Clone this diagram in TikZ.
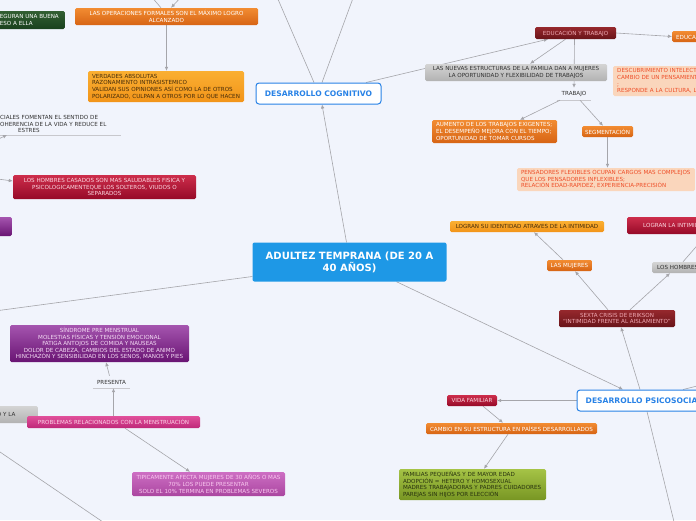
\documentclass[tikz,border=0pt]{standalone}
\usepackage{fontspec}
\setmainfont{DejaVu Sans}
\usetikzlibrary{arrows.meta}
\pgfdeclarelayer{fondo}
\pgfdeclarelayer{lineas}
\pgfsetlayers{fondo,lineas,main}

\definecolor{papel}{RGB}{241,244,252}
\definecolor{grislinea}{RGB}{165,165,170}
\definecolor{grisclaro}{RGB}{200,200,205}
\definecolor{azulraiz}{RGB}{30,152,230}
\definecolor{azulrama}{RGB}{40,130,230}
\definecolor{naranjaA}{RGB}{242,140,50}
\definecolor{naranjaB}{RGB}{215,100,20}
\definecolor{amarilloA}{RGB}{250,175,50}
\definecolor{amarilloB}{RGB}{242,148,25}
\definecolor{textooscuro}{RGB}{70,45,10}
\definecolor{granateA}{RGB}{150,40,45}
\definecolor{granateB}{RGB}{105,20,25}
\definecolor{rosagranate}{RGB}{240,170,180}
\definecolor{carmesiA}{RGB}{205,45,75}
\definecolor{carmesiB}{RGB}{150,10,40}
\definecolor{rosacarmesi}{RGB}{252,215,225}
\definecolor{grisA}{RGB}{212,212,212}
\definecolor{grisB}{RGB}{178,178,178}
\definecolor{textogris}{RGB}{50,50,50}
\definecolor{moradoA}{RGB}{165,85,175}
\definecolor{moradoB}{RGB}{105,20,115}
\definecolor{lilatexto}{RGB}{245,220,245}
\definecolor{fucsiaA}{RGB}{225,80,155}
\definecolor{fucsiaB}{RGB}{190,40,120}
\definecolor{rosafucsia}{RGB}{252,210,232}
\definecolor{lilaA}{RGB}{205,110,195}
\definecolor{lilaB}{RGB}{170,70,160}
\definecolor{rosalila}{RGB}{250,200,240}
\definecolor{melonfondo}{RGB}{250,214,188}
\definecolor{melontexto}{RGB}{238,78,40}
\definecolor{verdeA}{RGB}{165,195,70}
\definecolor{verdeB}{RGB}{120,150,35}
\definecolor{textoverde}{RGB}{40,50,15}
\definecolor{verdeoscA}{RGB}{50,95,50}
\definecolor{verdeoscB}{RGB}{25,65,30}

\newcommand{\letra}{\fontsize{5.6}{6.6}\selectfont}

\tikzset{
  conector/.style={draw=grislinea,line width=0.6pt},
  flecha/.style={conector,-{Latex[length=4pt,width=3.6pt]}},
  subrayado/.style={draw=grisclaro,line width=0.7pt},
  caja/.style={rounded corners=1.5pt,inner xsep=3pt,inner ysep=1.5pt,font=\letra,align=center},
  naranja/.style={caja,top color=naranjaA,bottom color=naranjaB,text=white},
  naranjaclaro/.style={caja,top color=amarilloA,bottom color=amarilloB,text=textooscuro},
  granate/.style={caja,top color=granateA,bottom color=granateB,text=rosagranate},
  carmesi/.style={caja,top color=carmesiA,bottom color=carmesiB,text=rosacarmesi},
  gris/.style={caja,top color=grisA,bottom color=grisB,text=textogris},
  morado/.style={caja,top color=moradoA,bottom color=moradoB,text=lilatexto},
  fucsia/.style={caja,top color=fucsiaA,bottom color=fucsiaB,text=rosafucsia},
  lila/.style={caja,top color=lilaA,bottom color=lilaB,text=rosalila},
  melon/.style={caja,fill=melonfondo,text=melontexto},
  verde/.style={caja,top color=verdeA,bottom color=verdeB,text=textoverde},
  verdeosc/.style={caja,top color=verdeoscA,bottom color=verdeoscB,text=white},
  libre/.style={font=\letra,text=textogris,inner sep=1pt,align=center},
  raiz/.style={rounded corners=2pt,fill=azulraiz,text=white,font=\bfseries\fontsize{10}{12}\selectfont,
    align=center,minimum width=194pt,minimum height=39pt},
  rama/.style={rounded corners=3pt,draw=azulrama,line width=1pt,fill=white,text=azulrama,
    font=\bfseries\fontsize{7.6}{8}\selectfont,minimum height=21pt}
}

\begin{document}
\begin{tikzpicture}[x=1pt,y=-1pt]
  \useasboundingbox (0,0) rectangle (696,520);
  \begin{pgfonlayer}{fondo}
    \fill[papel] (0,0) rectangle (696,520);
  \end{pgfonlayer}
  \begin{scope}
  \clip (0,0) rectangle (696,520);
  % ===================== nodos =====================
  % idea central y ramas
  \node[raiz] (raiz) at (349.5,262) {ADULTEZ TEMPRANA (DE 20 A\\40 AÑOS)};
  \node[rama,minimum width=125pt] (cog) at (318.5,93.5) {DESARROLLO COGNITIVO};
  \node[rama,minimum width=134pt] (psi) at (644,400.5) {DESARROLLO PSICOSOCIAL};
  % desarrollo cognitivo
  \node[naranja,minimum width=183pt,minimum height=17pt] (formales) at (166.5,16.5)
    {LAS OPERACIONES FORMALES SON EL MÁXIMO LOGRO\\ALCANZADO};
  \node[naranjaclaro,text width=148pt,align=left,inner xsep=4pt,minimum height=31pt] (verdades) at (166,86.5)
    {VERDADES ABSOLUTAS\\RAZONAMIENTO INTRASISTEMICO\\VALIDAN SUS OPINIONES ASÍ COMO LA DE OTROS\\POLARIZADO, CULPAN A OTROS POR LO QUE HACEN};
  \node[granate,minimum width=81pt,minimum height=12pt] (eduTrab) at (575.5,33) {EDUCACIÓN Y TRABAJO};
  \node[naranja,anchor=west,text width=52pt,align=left,inner xsep=4pt,minimum height=11pt] (educa) at (672,36.5) {EDUCACIÓN};
  \node[gris,minimum width=182pt,minimum height=17pt] (nuevaFam) at (516,72.5)
    {LAS NUEVAS ESTRUCTURAS DE LA FAMILIA DAN A MUJERES\\LA OPORTUNIDAD Y FLEXIBILIDAD DE TRABAJOS};
  \node[melon,anchor=west,text width=100pt,align=left,inner xsep=4pt,minimum height=30pt] (descubre) at (613,81)
    {DESCUBRIMIENTO INTELECTUAL\\CAMBIO DE UN PENSAMIENTO\\;\\RESPONDE A LA CULTURA, L};
  \node[libre,minimum width=34pt,minimum height=12pt] (trabajo) at (574,94) {TRABAJO};
  \node[naranja,text width=117pt,align=left,inner xsep=4pt,minimum height=23pt] (aumento) at (494.5,131.5)
    {AUMENTO DE LOS TRABAJOS EXIGENTES;\\EL DESEMPEÑO MEJORA CON EL TIEMPO;\\OPORTUNIDAD DE TOMAR CURSOS};
  \node[naranja,minimum width=51pt,minimum height=11pt] (segmenta) at (607.5,131.5) {SEGMENTACIÓN};
  \node[melon,text width=170pt,align=left,inner xsep=4pt,minimum height=23pt] (flexibles) at (606,179.5)
    {PENSADORES FLEXIBLES OCUPAN CARGOS MAS COMPLEJOS\\QUE LOS PENSADORES INFLEXIBLES;\\RELACIÓN EDAD-RAPIDEZ, EXPERIENCIA-PRECISIÓN};
  % lado izquierdo
  \node[verdeosc,anchor=east,text width=62pt,align=left,minimum height=18pt] (aseguran) at (65,20)
    {EGURAN UNA BUENA\\ESO A ELLA};
  \node[libre,anchor=south west,text width=116pt,align=left,inner xsep=5pt,inner ysep=2pt] (redes) at (-5,135)
    {CIALES FOMENTAN EL SENTIDO DE\\OHERENCIA DE LA VIDA Y REDUCE EL\\\hspace*{18pt}ESTRES};
  \node[carmesi,minimum width=183pt,minimum height=24pt] (casados) at (104.5,187)
    {LOS HOMBRES CASADOS SON MAS SALUDABLES FISICA Y\\PSICOLOGICAMENTEQUE LOS SOLTEROS, VIUDOS O\\SEPARADOS};
  \node[morado,anchor=east,minimum width=30pt,minimum height=19pt] (moradoIzq) at (12,226.5) {};
  \node[morado,minimum width=179pt,minimum height=37pt] (sindrome) at (99.5,343.5)
    {SÍNDROME PRE MENSTRUAL\\MOLESTIAS FÍSICAS Y TENSIÓN EMOCIONAL\\FATIGA ANTOJOS DE COMIDA Y NAUSEAS\\DOLOR DE CABEZA, CAMBIOS DEL ESTADO DE ANIMO\\HINCHAZÓN Y SENSIBILIDAD EN LOS SENOS, MANOS Y PIES};
  \node[libre,minimum width=37pt,minimum height=12pt] (presenta) at (111.5,382) {PRESENTA};
  \node[gris,anchor=east,text width=38pt,align=left,minimum height=17pt] (grisIzq) at (38,414.5) {O Y LA};
  \node[fucsia,minimum width=173pt,minimum height=12pt] (menstrua) at (113.5,422) {PROBLEMAS RELACIONADOS CON LA MENSTRUACIÓN};
  \node[lila,minimum width=153pt,minimum height=24pt] (tipico) at (208.5,484)
    {TIPICAMENTE AFECTA MUJERES DE 30 AÑOS O MAS\\70\% LOS PUEDE PRESENTAR\\SOLO EL 10\% TERMINA EN PROBLEMAS SEVEROS};
  % desarrollo psicosocial
  \node[naranjaclaro,minimum width=154pt,minimum height=11pt] (identidad) at (527,226.5) {LOGRAN SU IDENTIDAD ATRAVES DE LA INTIMIDAD};
  \node[naranja,minimum width=45pt,minimum height=11pt] (mujeres) at (569.5,265.5) {LAS MUJERES};
  \node[carmesi,anchor=west,text width=70pt,align=left,inner xsep=16pt,minimum height=17pt] (intimidad) at (627,225.5) {LOGRAN LA INTIMIDAD};
  \node[gris,anchor=west,text width=50pt,align=left,inner xsep=5pt,minimum height=11pt] (hombres) at (652,267.5) {LOS HOMBRES};
  \node[granate,minimum width=116pt,minimum height=17pt] (erikson) at (617,318.5)
    {SEXTA CRISIS DE ERIKSON\\``INTIMIDAD FRENTE AL AISLAMIENTO''};
  \node[carmesi,minimum width=50pt,minimum height=11pt] (vidaFam) at (472,400.5) {VIDA FAMILIAR};
  \node[naranja,minimum width=171pt,minimum height=11pt] (cambio) at (511.5,428.5) {CAMBIO EN SU ESTRUCTURA EN PAÍSES DESARROLLADOS};
  \node[verde,text width=139pt,align=left,inner xsep=4pt,minimum height=31pt] (familias) at (472.5,484.5)
    {FAMILIAS PEQUEÑAS Y DE MAYOR EDAD\\ADOPCIÓN = HETERO Y HOMOSEXUAL\\MADRES TRABAJADORAS Y PADRES CUIDADORES\\PAREJAS SIN HIJOS POR ELECCIÓN};
  \end{scope}
  % extremos sueltos
  \coordinate (finIzq) at (-20,313);
  \coordinate (finArribaA) at (274,-10);
  \coordinate (finArribaB) at (356,-10);
  \coordinate (finFormalA) at (150,-5);
  \coordinate (finFormalB) at (183,-5);
  \coordinate (finRedes) at (-10,143);
  \coordinate (finCasados) at (-10,178);
  \coordinate (finBajoA) at (-5,448.6);
  \coordinate (finBajoB) at (105,523.4);
  \coordinate (finPsiDer) at (705,384);
  \coordinate (finPsiAbajo) at (676,530);
  % ===================== conectores =====================
  \begin{pgfonlayer}{lineas}
  \clip (0,0) rectangle (696,520);
  % desde la idea central
  \draw[flecha] ([xshift=-3pt]raiz.north) -- ([xshift=3.5pt]cog.south);
  \draw[flecha] ([xshift=47pt]raiz.south) -- ([xshift=-21pt]psi.north);
  \draw[conector] ([yshift=-14.5pt]raiz.west) -- (finIzq);
  % rama cognitiva
  \draw[conector] ([xshift=-4.5pt]cog.north) -- (finArribaA);
  \draw[conector] ([xshift=3.5pt]cog.north) -- (finArribaB);
  \draw[flecha] ([xshift=47.5pt]cog.north) -- ([xshift=-27.5pt]eduTrab.south);
  \draw[flecha] (eduTrab.east) -- (educa.west);
  \draw[flecha] ([xshift=-10pt]eduTrab.south) -- ([xshift=14pt]nuevaFam.north);
  \draw[flecha] ([xshift=-1pt]eduTrab.south) -- (trabajo.north);
  \draw[subrayado] (trabajo.south west) -- (trabajo.south east);
  \draw[flecha] ([xshift=-14pt]trabajo.south) -- ([xshift=25.5pt]aumento.north);
  \draw[flecha] ([xshift=6pt]trabajo.south) -- ([xshift=-4.5pt]segmenta.north);
  \draw[flecha] (segmenta.south) -- (segmenta.south |- flexibles.north);
  \draw[conector] ([xshift=-5.5pt]formales.north) -- (finFormalA);
  \draw[flecha] (finFormalB) -- ([xshift=4.5pt]formales.north);
  \draw[flecha] (formales.south) -- (formales.south |- verdades.north);
  % lado izquierdo
  \draw[subrayado] (redes.south west) -- (redes.south east);
  \draw[flecha] (finRedes) -- ([xshift=12pt]redes.south west);
  \draw[flecha] (finCasados) -- ([yshift=6pt]casados.west);
  \draw[subrayado] (presenta.south west) -- (presenta.south east);
  \draw[flecha] ([xshift=-2pt]presenta.north) -- ([xshift=6.5pt]sindrome.south);
  \draw[flecha] (menstrua.north) -- (menstrua.north |- presenta.south);
  \draw[flecha] ([xshift=11.5pt]menstrua.south) -- ([xshift=-18.5pt]tipico.north);
  \draw[conector] (finBajoA) -- (finBajoB);
  % rama psicosocial
  \draw[flecha] ([xshift=-4pt]psi.north) -- ([xshift=4pt]erikson.south);
  \draw[flecha] ([xshift=-9pt]erikson.north) -- ([xshift=5.5pt]mujeres.south);
  \draw[flecha] ([xshift=13pt]erikson.north) -- ([xshift=18pt]hombres.south west);
  \draw[flecha] ([xshift=-6.5pt]mujeres.north) -- ([xshift=7pt]identidad.south);
  \draw[flecha] ([xshift=31pt]hombres.north west) -- ([xshift=80pt]intimidad.south west);
  \draw[conector] ([xshift=39pt]psi.north) -- (finPsiDer);
  \draw[conector] ([xshift=3pt]psi.south) -- (finPsiAbajo);
  \draw[flecha] (psi.west) -- (vidaFam.east);
  \draw[flecha] ([xshift=11pt]vidaFam.south) -- ([xshift=-8.5pt]cambio.north);
  \draw[flecha] ([xshift=-3.5pt]cambio.south) -- ([xshift=11.5pt]familias.north);
  \end{pgfonlayer}
\end{tikzpicture}
\end{document}
